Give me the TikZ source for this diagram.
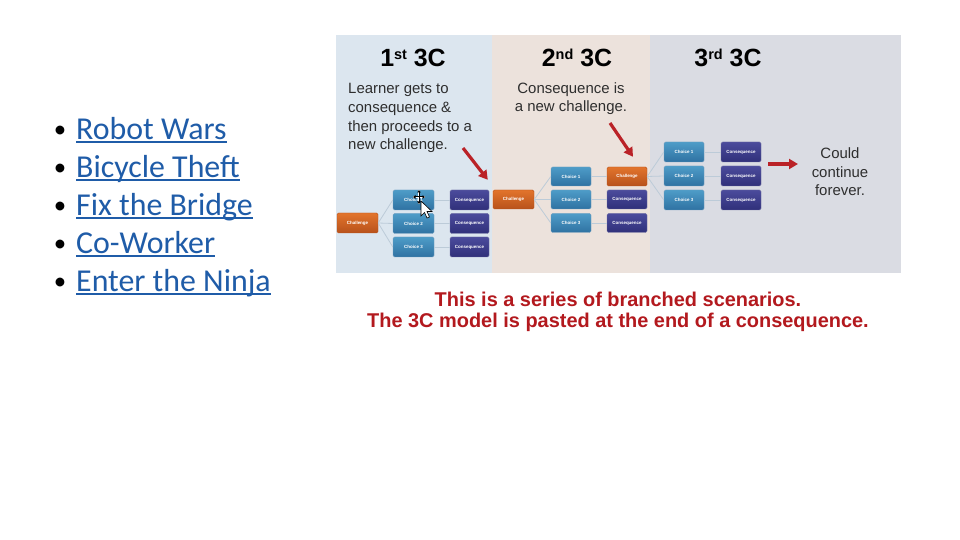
\documentclass[tikz,border=0pt]{standalone}
\usepackage{fontspec}
\setmainfont{Liberation Sans}
\newfontfamily\bulletfont{Carlito}
\usepackage{xcolor}
\usetikzlibrary{arrows.meta}

\definecolor{panelA}{HTML}{DCE6EF}
\definecolor{panelB}{HTML}{ECE2DC}
\definecolor{panelC}{HTML}{DADCE3}
\definecolor{chalTop}{HTML}{E2742C}
\definecolor{chalBot}{HTML}{B8521B}
\definecolor{choiceTop}{HTML}{4E9CC8}
\definecolor{choiceBot}{HTML}{2F72A2}
\definecolor{conseqTop}{HTML}{4B4B9C}
\definecolor{conseqBot}{HTML}{30307A}
\definecolor{branchgrey}{HTML}{BCCBD8}
\definecolor{arrowred}{HTML}{BA2227}
\definecolor{captionred}{HTML}{B3191E}
\definecolor{notegrey}{HTML}{2E2E2E}
\definecolor{linkblue}{HTML}{1F5CA8}

\newcommand{\linkul}[1]{\setbox0\hbox{#1}\rlap{\rule[-3.2bp]{\wd0}{1.8bp}}\box0}

\begin{document}
\begin{tikzpicture}[
  x=1bp, y=-1bp,
  >=Stealth,
  box/.style={rectangle, rounded corners=1.5bp, inner sep=0pt,
    minimum width=41bp, minimum height=20bp, text=white,
    font=\fontsize{4.5}{5}\selectfont\bfseries, line width=0.4bp},
  challenge/.style={box, top color=chalTop, bottom color=chalBot, draw=chalBot},
  choice/.style={box, top color=choiceTop, bottom color=choiceBot, draw=choiceBot!70!white},
  conseq/.style={box, top color=conseqTop, bottom color=conseqBot, draw=conseqBot!70!white},
  branch/.style={draw=branchgrey, line width=0.8bp},
  redarrow/.style={-{Triangle[length=9bp,width=10bp]}, line width=3.2bp, draw=arrowred},
  title/.style={font=\fontsize{25}{25}\selectfont\bfseries, anchor=base, inner sep=0pt},
  note/.style={font=\fontsize{15}{19}\selectfont, text=notegrey, inner sep=0pt},
  caption/.style={font=\fontsize{20}{21}\selectfont\bfseries, text=captionred,
    anchor=base, inner sep=0pt},
  item/.style={font=\bulletfont\fontsize{32}{38}\selectfont, text=linkblue,
    anchor=base west, inner sep=0pt},
  bullet/.style={font=\bulletfont\fontsize{25}{38}\selectfont, anchor=base, inner sep=0pt},
]
\useasboundingbox[fill=white] (0,0) rectangle (960,540);

% Panels
\fill[panelA] (336,35) rectangle (492,273);
\fill[panelB] (492,35) rectangle (650,273);
\fill[panelC] (650,35) rectangle (901,273);

% Titles
\node[title] at (413,67) (tA) {1\raisebox{7bp}{\fontsize{14.5}{14.5}\selectfont st} 3C};
\node[title] at (577,67) (tB) {2\raisebox{7bp}{\fontsize{14.5}{14.5}\selectfont nd} 3C};
\node[title] at (728,67) (tC) {3\raisebox{7bp}{\fontsize{14.5}{14.5}\selectfont rd} 3C};

% Notes (base = last line)
\node[note, anchor=base west, align=left] at (348,150) (noteA)
  {Learner gets to\\consequence \&\\then proceeds to a\\new challenge.};
\node[note, anchor=base, align=center] at (571,112) (noteB)
  {Consequence is\\a new challenge.};
\node[note, anchor=base, align=center] at (840,196) (could)
  {Could\\continue\\forever.};

% Tree 1
\node[challenge] at (357.5,223) (chA) {Challenge};
\node[choice] at (413.5,200) (chA1) {Choice 1};
\node[choice] at (413.5,223.5) (chA2) {Choice 2};
\node[choice] at (413.5,247) (chA3) {Choice 3};
\node[conseq, minimum width=39bp] at (469.5,200) (csA1) {Consequence};
\node[conseq, minimum width=39bp] at (469.5,223.5) (csA2) {Consequence};
\node[conseq, minimum width=39bp] at (469.5,247) (csA3) {Consequence};

% Tree 2
\node[challenge, minimum height=19bp] at (513.5,199.5) (chB) {Challenge};
\node[choice, minimum width=40bp, minimum height=19bp] at (571,176.5) (chB1) {Choice 1};
\node[choice, minimum width=40bp, minimum height=19bp] at (571,199.5) (chB2) {Choice 2};
\node[choice, minimum width=40bp, minimum height=19bp] at (571,223) (chB3) {Choice 3};
\node[challenge, minimum width=40bp, minimum height=19bp] at (627,176.5) (chC) {Challenge};
\node[conseq, minimum width=40bp, minimum height=19bp] at (627,199.5) (csB2) {Consequence};
\node[conseq, minimum width=40bp, minimum height=19bp] at (627,223) (csB3) {Consequence};

% Tree 3
\node[choice, minimum width=40bp] at (684,152) (chC1) {Choice 1};
\node[choice, minimum width=40bp] at (684,176) (chC2) {Choice 2};
\node[choice, minimum width=40bp] at (684,200) (chC3) {Choice 3};
\node[conseq, minimum width=40bp] at (741,152) (csC1) {Consequence};
\node[conseq, minimum width=40bp] at (741,176) (csC2) {Consequence};
\node[conseq, minimum width=40bp] at (741,200) (csC3) {Consequence};

% Branch lines
\draw[branch] (chA.east) -- (chA1.west);
\draw[branch] (chA.east) -- (chA2.west);
\draw[branch] (chA.east) -- (chA3.west);
\draw[branch] (chA1) -- (csA1);
\draw[branch] (chA2) -- (csA2);
\draw[branch] (chA3) -- (csA3);
\draw[branch] (chB.east) -- (chB1.west);
\draw[branch] (chB.east) -- (chB2.west);
\draw[branch] (chB.east) -- (chB3.west);
\draw[branch] (chB1) -- (chC);
\draw[branch] (chB2) -- (csB2);
\draw[branch] (chB3) -- (csB3);
\draw[branch] (chC.east) -- (chC1.west);
\draw[branch] (chC.east) -- (chC2.west);
\draw[branch] (chC.east) -- (chC3.west);
\draw[branch] (chC1) -- (csC1);
\draw[branch] (chC2) -- (csC2);
\draw[branch] (chC3) -- (csC3);

% Red arrows
\coordinate (arrAs) at (463,148);
\coordinate (arrBs) at (610,123);
\coordinate (arrCs) at (768,164);
\coordinate (arrCe) at (798,164);
\draw[redarrow] (arrAs) -- ([shift={(-5,-10)}]chB.north west);
\draw[redarrow] (arrBs) -- ([shift={(6,-10)}]chC.north);
\draw[redarrow] (arrCs) -- (arrCe);

% Mouse cursor
\begin{scope}[shift={(419,197)}]
  \draw[white, line width=2.2bp] (-6,0) -- (6,0) (0,-7) -- (0,7);
  \draw[black, line width=1bp, {Triangle[length=2.5bp,width=3.5bp]}-{Triangle[length=2.5bp,width=3.5bp]}] (-6,0) -- (6,0);
  \draw[black, line width=1bp, {Triangle[length=2.5bp,width=3.5bp]}-{Triangle[length=2.5bp,width=3.5bp]}] (0,-7) -- (0,7);
\end{scope}
\filldraw[fill=white, draw=black, line width=0.6bp, shift={(421,201)}]
  (0,0) -- (0,15) -- (3.5,11.5) -- (6,17) -- (8.5,16) -- (6,10.5) -- (11,10.5) -- cycle;

% Caption
\node[caption] at (618,307) (capA) {This is a series of branched scenarios.};
\node[caption] at (618,328) (capB) {The 3C model is pasted at the end of a consequence.};

% Bullet list
\node[bullet] at (60,138) (bA) {•};
\node[bullet] at (60,176) (bB) {•};
\node[bullet] at (60,214) (bC) {•};
\node[bullet] at (60,252) (bD) {•};
\node[bullet] at (60,290) (bE) {•};
\node[item] at (76,140) (itA) {\linkul{Robot Wars}};
\node[item] at (76,178) (itB) {\linkul{Bicycle Theft}};
\node[item] at (76,216) (itC) {\linkul{Fix the Bridge}};
\node[item] at (76,254) (itD) {\linkul{Co-Worker}};
\node[item] at (76,292) (itE) {\linkul{Enter the Ninja}};

\end{tikzpicture}
\end{document}
